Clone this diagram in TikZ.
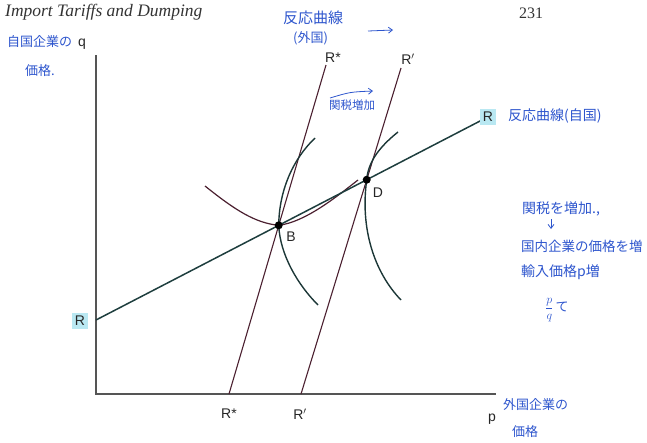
\documentclass[tikz,border=0pt]{standalone}
\usepackage{fontspec}
\setmainfont{Liberation Serif}
\newfontfamily\labfont{Liberation Sans}
\newfontfamily\jpfont{Noto Sans CJK JP}
\usetikzlibrary{arrows.meta}
\definecolor{hand}{RGB}{45,85,205}
\definecolor{axisgray}{RGB}{85,85,85}
\definecolor{rcol}{RGB}{30,62,62}
\definecolor{mcol}{RGB}{75,32,48}
\definecolor{ccol}{RGB}{28,55,55}
\definecolor{hl}{RGB}{185,232,242}
\tikzset{
  axisline/.style={draw=axisgray, line width=1.1pt},
  homeline/.style={draw=rcol, line width=1.5pt},
  forline/.style={draw=mcol, line width=1.1pt},
  isocurve/.style={draw=ccol, line width=1.4pt},
  ucurve/.style={draw=mcol, line width=1.2pt},
  lab/.style={font=\labfont\fontsize{14}{14}\selectfont, text=black!85, inner sep=0pt},
  hw/.style={font=\jpfont\fontsize{14}{16}\selectfont, text=hand, inner sep=0pt, anchor=west},
  harrow/.style={draw=hand, line width=0.8pt, -{Straight Barb[length=4pt,width=6pt]}},
  eqdot/.style={circle, fill=black, inner sep=0pt, minimum size=8pt},
}
\begin{document}
\begin{tikzpicture}[x=1pt,y=-1pt]
\useasboundingbox (0,0) rectangle (647,442);
% header
\node[font=\itshape\fontsize{17.5}{17.5}\selectfont, text=black!80, anchor=west, inner sep=0pt] (title) at (5,12) {Import Tariffs and Dumping};
\node[font=\fontsize{16}{16}\selectfont, text=black!80, inner sep=0pt] (page) at (531,13) {231};
% axes
\coordinate (qtop) at (96,55);
\coordinate (pend) at (496,394);
\draw[axisline] (qtop) |- (pend);
\node[lab] (q) at (82,44) {q};
\node[lab] (p) at (492,419) {p};
% lines
\coordinate (R1) at (96,320);
\coordinate (R2) at (482,120);
\coordinate (Rs1) at (229,394);
\coordinate (Rs2) at (326,65);
\coordinate (Rp1) at (301,394);
\coordinate (Rp2) at (401,68);
\coordinate (B) at (intersection of R1--R2 and Rs1--Rs2);
\coordinate (D) at (intersection of R1--R2 and Rp1--Rp2);
\draw[forline] (Rs1) -- (Rs2);
\draw[forline] (Rp1) -- (Rp2);
% curves
\draw[ucurve] (205,186) .. controls (235,210) and (255,223) .. (B) .. controls (305,222) and (335,198) .. (358,180);
\draw[isocurve] (315,138) .. controls (292,160) and (279,192) .. (B) .. controls (280,255) and (298,285) .. (318,305);
\draw[isocurve] (398,132) .. controls (378,148) and (368,163) .. (D) .. controls (360,228) and (374,272) .. (401,300);
\draw[homeline] (R1) -- (R2);
\node[eqdot] (Bdot) at (B) {};
\node[eqdot] (Ddot) at (D) {};
\node[lab] (Blab) at (291,237) {B};
\node[lab] (Dlab) at (378,193) {D};
% line labels
\node[lab, fill=hl, inner sep=3pt] (RL) at (80,321) {R};
\node[lab, fill=hl, inner sep=3pt] (RR) at (488,117) {R};
\node[lab] (Rstop) at (333,58) {R*};
\node[lab] (Rptop) at (408,59) {R$'$};
\node[lab] (Rsbot) at (229,414) {R*};
\node[lab] (Rpbot) at (300,414) {R$'$};
% handwritten notes
\node[hw, font=\jpfont\fontsize{13}{13}\selectfont] (n1) at (7,42) {自国企業の};
\node[hw, font=\jpfont\fontsize{13}{13}\selectfont] (n2) at (25,71) {価格.};
\node[hw, font=\jpfont\fontsize{15}{15}\selectfont] (n3) at (283,18) {反応曲線};
\node[hw, font=\jpfont\fontsize{13}{13}\selectfont] (n4) at (293,38) {(外国)};
\coordinate (a1s) at (368,31);
\coordinate (a1e) at (393,30);
\draw[harrow] (a1s) -- (a1e);
\node[hw, font=\jpfont\fontsize{11.5}{11.5}\selectfont] (n5) at (329,105) {関税増加};
\coordinate (a2s) at (330,98);
\coordinate (a2e) at (373,91);
\draw[harrow] (a2s) .. controls (350,92) .. (a2e);
\node[hw, font=\jpfont\fontsize{14}{14}\selectfont] (n6) at (508,116) {反応曲線(自国)};
\node[hw, font=\jpfont\fontsize{14}{14}\selectfont] (n7) at (522,209) {関税を増加.,};
\coordinate (a3s) at (551,219);
\coordinate (a3e) at (551,229);
\draw[harrow] (a3s) -- (a3e);
\node[hw, font=\jpfont\fontsize{13.5}{13.5}\selectfont] (n8) at (521,246) {国内企業の価格を増};
\node[hw, font=\jpfont\fontsize{14}{14}\selectfont] (n9) at (521,272) {輸入価格p増};
\node[hw, font=\jpfont\fontsize{13}{13}\selectfont] (n10) at (545,310) {$\displaystyle\frac{p}{q}$\,て};
\node[hw, font=\jpfont\fontsize{13}{13}\selectfont] (n11) at (503,405) {外国企業の};
\node[hw, font=\jpfont\fontsize{13}{13}\selectfont] (n12) at (512,432) {価格};
\end{tikzpicture}
\end{document}
